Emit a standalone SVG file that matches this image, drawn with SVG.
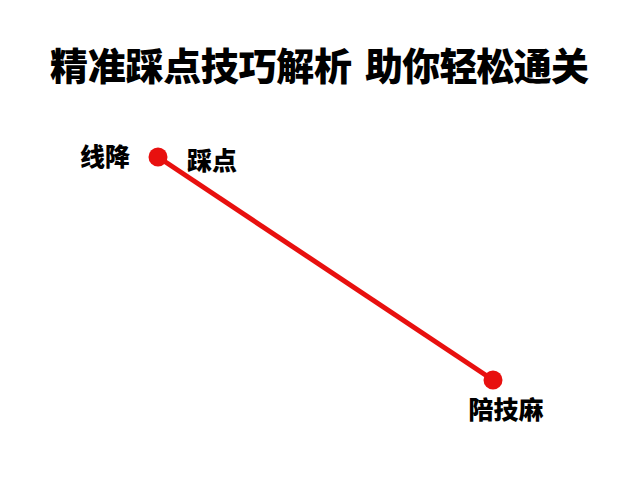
<svg xmlns="http://www.w3.org/2000/svg" width="640" height="480" viewBox="0 0 640 480">
<style>
text{font-family:"Noto Sans CJK SC","Noto Sans CJK JP",sans-serif;font-weight:900;fill:#000}
.lbl{font-size:25px}
.dot{fill:#e8100f}
</style>
<rect width="640" height="480" fill="#fff"/>
<g id="title" font-size="38">
<text x="50" y="80" textLength="302" lengthAdjust="spacing">精准踩点技巧解析</text>
<text x="365" y="80" textLength="224" lengthAdjust="spacing">助你轻松通关</text>
</g>
<g id="connectors">
<line x1="158" y1="157" x2="493" y2="380" stroke="#e8100f" stroke-width="5"/>
</g>
<g id="node-start">
<circle class="dot" cx="158" cy="157" r="9.5"/>
<text class="lbl" x="105" y="166" text-anchor="middle">线降</text>
<text class="lbl" x="212" y="170" text-anchor="middle">踩点</text>
</g>
<g id="node-end">
<circle class="dot" cx="493" cy="380" r="9.5"/>
<text class="lbl" x="506" y="419" text-anchor="middle">陪技麻</text>
</g>
</svg>
